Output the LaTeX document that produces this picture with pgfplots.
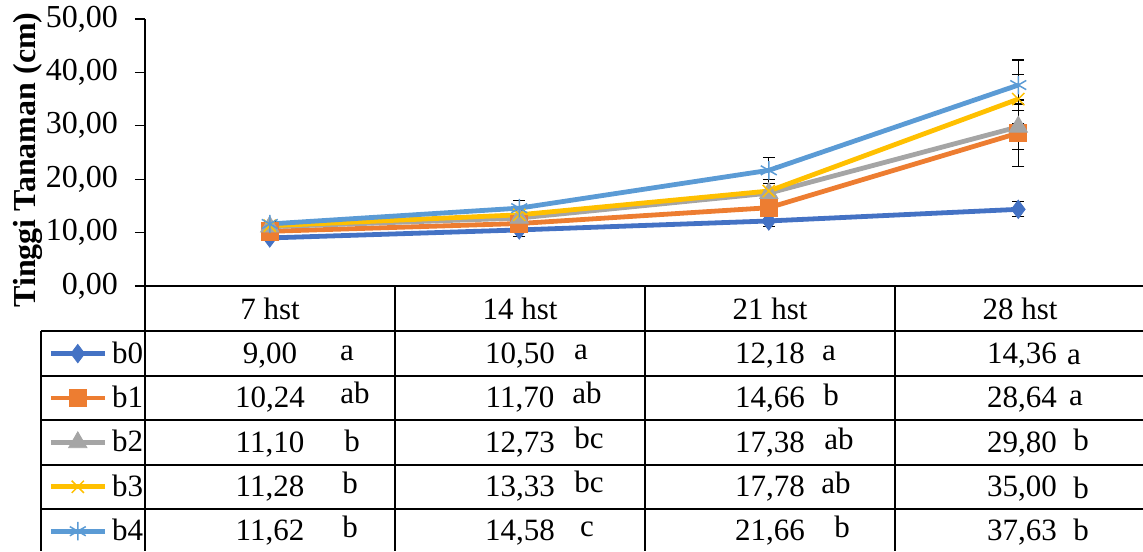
\documentclass[border=0pt]{standalone}
\usepackage{fontspec}
\setmainfont{Liberation Serif}
\usepackage{pgfplots}
\pgfplotsset{compat=1.18}

\definecolor{cbA}{HTML}{4472C4}
\definecolor{cbB}{HTML}{ED7D31}
\definecolor{cbC}{HTML}{A5A5A5}
\definecolor{cbD}{HTML}{FFC000}
\definecolor{cbE}{HTML}{5B9BD5}

\pgfplotstableread{
x   y      e
1   9.00   0.4
2   10.50  1.3
3   12.18  1.1
4   14.36  1.4
}\bzero
\pgfplotstableread{
x   y      e
1   10.24  0.5
2   11.70  0.9
3   14.66  1.5
4   28.64  6.2
}\bone
\pgfplotstableread{
x   y      e
1   11.10  0.5
2   12.73  0.8
3   17.38  2.6
4   29.80  4.3
}\btwo
\pgfplotstableread{
x   y      e
1   11.28  0.5
2   13.33  0.8
3   17.78  2.1
4   35.00  4.6
}\bthree
\pgfplotstableread{
x   y      e
1   11.62  0.5
2   14.58  1.4
3   21.66  2.45
4   37.63  4.7
}\bfour

\begin{document}
\begin{tikzpicture}
\begin{axis}[
  width=499pt, height=133.5pt, scale only axis,
  xmin=0.5, xmax=4.5, ymin=0, ymax=50,
  clip=false,
  axis x line=bottom, axis y line=left,
  axis line style={-, line width=0.6pt, black},
  xtick=\empty,
  ytick={0,10,20,30,40,50},
  tick align=outside, major tick length=5pt,
  tick style={line width=0.6pt, black},
  yticklabel style={font=\fontsize{16}{19}\selectfont, xshift=-5pt,
    /pgf/number format/fixed, /pgf/number format/fixed zerofill,
    /pgf/number format/precision=2, /pgf/number format/use comma,
    /pgf/number format/assume math mode=true},
  ylabel={Tinggi Tanaman (cm)},
  ylabel style={font=\bfseries\fontsize{16}{19}\selectfont,
    at={(axis description cs:-0.1102,0.4719)}, anchor=base},
  every axis plot/.append style={line width=2.4pt},
  error bars/y dir=both, error bars/y explicit,
  error bars/error bar style={black, line width=0.6pt},
  error bars/error mark options={rotate=90, black, mark size=3pt, line width=0.6pt},
  legend cell align=left,
  legend image code/.code={\draw[mark repeat=2,mark phase=2] plot coordinates {(0pt,0pt) (13.5pt,0pt) (27pt,0pt)};},
  legend style={at={(axis description cs:-0.0972,-0.1685)}, anchor=north west,
    draw=none, fill=none, inner sep=0pt, row sep=0pt, column sep=0pt,
    font=\fontsize{15.5}{18}\selectfont,
    nodes={inner xsep=2.5pt, inner ysep=0pt, text height=15.85pt, text depth=6.35pt}},
]
\addplot[color=cbA, mark=diamond*, mark size=4.6pt, mark options={solid, fill=cbA, line width=0.4pt}]
  table[x=x, y=y, y error=e] {\bzero};
\addlegendentry{b0}
\addplot[color=cbB, mark=square*, mark size=4.3pt, mark options={solid, fill=cbB, line width=0.4pt}]
  table[x=x, y=y, y error=e] {\bone};
\addlegendentry{b1}
\addplot[color=cbC, mark=triangle*, mark size=5.3pt, mark options={solid, fill=cbC, line width=0.4pt}]
  table[x=x, y=y, y error=e] {\btwo};
\addlegendentry{b2}
\addplot[color=cbD, mark=x, mark size=4.3pt, mark options={solid, line width=0.75pt}]
  table[x=x, y=y, y error=e] {\bthree};
\addlegendentry{b3}
\addplot[color=cbE, mark=asterisk, mark size=4.6pt, mark options={solid, line width=0.75pt}]
  table[x=x, y=y, y error=e] {\bfour};
\addlegendentry{b4}
\end{axis}

% data table below the plot, coordinates in reference pixels
\begin{scope}[x=0.5pt, y=-0.5pt, shift={(-72.5pt,143pt)}, line width=0.6pt,
  every node/.style={font=\fontsize{15.5}{18}\selectfont, anchor=base, inner sep=0pt}]
  \foreach \Y in {331,376,420,465,509} \draw (41,\Y) -- (1143,\Y);
  \draw (41,331) -- (41,551);
  \foreach \X in {145,395,645,895} \draw (\X,286) -- (\X,551);
  % header
  \node at (270,319) {7 hst};
  \node at (520,319) {14 hst};
  \node at (770,319) {21 hst};
  \node at (1020,319) {28 hst};
  % 7 hst
  \node at (270,363) {9,00};   \node at (347,360) {a};
  \node at (270,407) {10,24};  \node at (355,403) {ab};
  \node at (270,452) {11,10};  \node at (352,451) {b};
  \node at (270,496) {11,28};  \node at (350,493) {b};
  \node at (270,540) {11,62};  \node at (350,537) {b};
  % 14 hst
  \node at (520,363) {10,50};  \node at (581,359) {a};
  \node at (520,407) {11,70};  \node at (587,403) {ab};
  \node at (520,452) {12,73};  \node at (589,448) {bc};
  \node at (520,496) {13,33};  \node at (589,492) {bc};
  \node at (520,540) {14,58};  \node at (587,536) {c};
  % 21 hst
  \node at (770,363) {12,18};  \node at (829,360) {a};
  \node at (770,407) {14,66};  \node at (831,405) {b};
  \node at (770,452) {17,38};  \node at (839,449) {ab};
  \node at (770,496) {17,78};  \node at (836,493) {ab};
  \node at (770,540) {21,66};  \node at (842,537) {b};
  % 28 hst
  \node at (1022,363) {14,36}; \node at (1074,364) {a};
  \node at (1022,407) {28,64}; \node at (1076,405) {a};
  \node at (1022,452) {29,80}; \node at (1081,450) {b};
  \node at (1022,496) {35,00}; \node at (1081,498) {b};
  \node at (1022,540) {37,63}; \node at (1081,540) {b};
  \pgfresetboundingbox
  \path[use as bounding box] (0,0) rectangle (1143,551);
\end{scope}
\end{tikzpicture}
\end{document}
